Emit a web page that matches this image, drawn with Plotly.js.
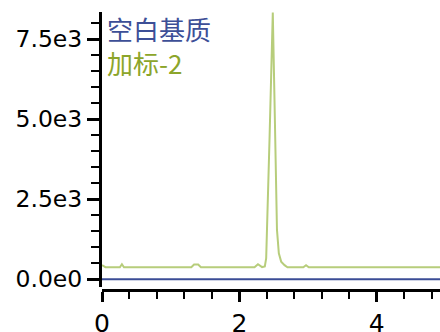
<!DOCTYPE html>
<html>
<head>
<meta charset="utf-8">
<script src="https://cdn.plot.ly/plotly-3.0.1.min.js"></script>
<style>html,body{margin:0;padding:0;background:#fff;}#chart{width:440px;height:332px;}</style>
</head>
<body>
<div id="chart"></div>
<script>
// Series names
const seriesNames = ["空白基质", "加标-2"];

// Blank matrix (flat at zero)
const blankX = [0, 4.92];
const blankY = [0, 0];

// Spiked sample chromatogram
const spikeX = [0, 0.05, 0.26, 0.29, 0.32, 1.30, 1.34, 1.40, 1.44, 2.22, 2.27, 2.33, 2.37, 2.39, 2.44, 2.486, 2.511, 2.525, 2.533, 2.547, 2.574, 2.608, 2.657, 2.70, 2.93, 2.97, 3.01, 4.92];
const spikeY = [440, 375, 375, 470, 375, 375, 460, 460, 375, 375, 470, 380, 400, 660, 4500, 8330, 5600, 3730, 3100, 1540, 810, 550, 440, 375, 375, 440, 375, 375];

// Tick labels
const yTickVals = [0, 2500, 5000, 7500];
const yTickText = ["0.0e0", "2.5e3", "5.0e3", "7.5e3"];
const xTickVals = [0, 2, 4];
const xTickText = ["0", "2", "4"];

const colors = ["#3b4c96", "#b7cd7b"];
const textColors = ["#3d4f97", "#8ca52a"];

const traces = [
  {x: blankX, y: blankY, type: "scatter", mode: "lines", name: seriesNames[0],
   line: {color: colors[0], width: 2}},
  {x: spikeX, y: spikeY, type: "scatter", mode: "lines", name: seriesNames[1],
   line: {color: colors[1], width: 2}}
];

const yFont = {family: "DejaVu Sans, sans-serif", size: 23.5, color: "#000"};
const xFont = {family: "DejaVu Sans, sans-serif", size: 25, color: "#000"};

const legendText = seriesNames.map((n, i) => `<span style="color:${textColors[i]}">${n}</span>`).join("<br>");

const layout = {
  width: 440, height: 332,
  margin: {l: 102, r: 0, t: 12, b: 42},
  paper_bgcolor: "#fff", plot_bgcolor: "#fff",
  showlegend: false,
  xaxis: {
    range: [0, 4.92], anchor: "free", position: 0,
    showgrid: false, zeroline: false,
    showline: true, linecolor: "#000", linewidth: 3,
    ticks: "outside", ticklen: 10, tickwidth: 3, tickcolor: "#000",
    tickvals: xTickVals, ticktext: xTickText, tickfont: xFont,
    minor: {dtick: 0.4, tick0: 0, ticks: "outside", ticklen: 7, tickwidth: 2, tickcolor: "#000", showgrid: false}
  },
  yaxis: {
    range: [-250, 8350], domain: [0.01, 1],
    showgrid: false, zeroline: false,
    showline: true, linecolor: "#000", linewidth: 3,
    ticks: "outside", ticklen: 12, tickwidth: 3, tickcolor: "#000",
    tickvals: yTickVals, ticktext: yTickText, tickfont: yFont,
    minor: {dtick: 500, tick0: 0, ticks: "outside", ticklen: 8, tickwidth: 2, tickcolor: "#000", showgrid: false}
  },
  annotations: [{
    text: legendText, xref: "paper", yref: "paper", x: 0, xshift: 3, y: 0.878,
    xanchor: "left", yanchor: "middle", align: "left", showarrow: false,
    font: {family: "Noto Sans CJK SC, Noto Sans, sans-serif", size: 26, color: textColors[0]}
  }]
};

Plotly.newPlot("chart", traces, layout, {displayModeBar: false, staticPlot: true});
</script>
</body>
</html>
